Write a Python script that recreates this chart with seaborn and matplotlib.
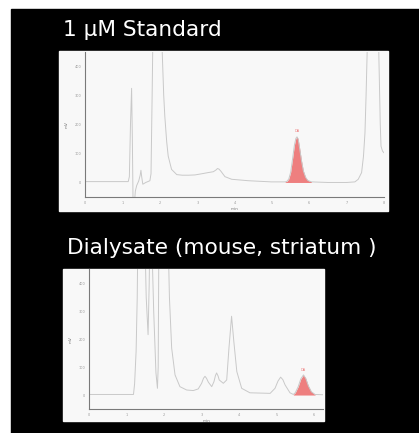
import matplotlib
matplotlib.use("Agg")
import matplotlib.pyplot as plt
from matplotlib.patches import Rectangle
import numpy as np
import pandas as pd
import seaborn as sns

# trace (min, mV); 600 = off scale
std_time = [0.00, 1.15, 1.18, 1.21, 1.24, 1.26, 1.28, 1.31, 1.34, 1.375,
            1.43, 1.47, 1.49, 1.51, 1.54, 1.62, 1.73, 1.76, 1.79, 1.82,
            2.03, 2.06, 2.10, 2.13, 2.18, 2.22, 2.31, 2.45, 2.60, 2.76,
            2.94, 3.12, 3.29, 3.43, 3.50, 3.54, 3.58, 3.63, 3.74, 3.92,
            4.37, 4.99, 5.35, 5.40, 5.45, 5.50, 5.55, 5.60, 5.64, 5.67,
            5.70, 5.74, 5.79, 5.84, 5.90, 5.96, 6.06, 6.50, 7.00, 7.22,
            7.31, 7.40, 7.45, 7.49, 7.52, 7.55, 7.58, 7.82, 7.86, 7.90,
            7.92, 7.96, 8.00]
std_mv = [3, 3, 20, 200, 324, 150, -80, -80, -30, -11,
          5, 25, 42, 20, -6, 0, 6, 30, 300, 600,
          600, 450, 300, 227, 140, 91, 45, 27, 25, 25,
          26, 30, 34, 37, 43, 48, 46, 39, 20, 11,
          6, 2, 2, 4, 12, 35, 80, 128, 152, 157,
          150, 118, 75, 40, 18, 7, 2, 0, 0, 2,
          11, 34, 90, 170, 300, 454, 600, 600, 450, 200,
          125, 108, 102]
std_peak = (5.35, 6.06)

# trace
dia_time = [0.00, 1.18, 1.21, 1.25, 1.28, 1.30, 1.48, 1.52, 1.57, 1.60,
            1.62, 1.66, 1.72, 1.78, 1.82, 1.84, 1.86, 2.10, 2.14, 2.20,
            2.29, 2.42, 2.60, 2.78, 2.91, 3.00, 3.05, 3.09, 3.13, 3.18,
            3.27, 3.33, 3.37, 3.40, 3.44, 3.47, 3.58, 3.67, 3.73, 3.80,
            3.86, 3.94, 4.07, 4.29, 4.83, 4.96, 5.04, 5.11, 5.17, 5.23,
            5.36, 5.45, 5.50, 5.58, 5.65, 5.72, 5.78, 5.85, 5.93, 6.03,
            6.25]
dia_mv = [2, 2, 40, 156, 350, 600, 600, 350, 216, 400,
          600, 600, 300, 80, 24, 100, 600, 600, 350, 168,
          72, 30, 18, 16, 22, 42, 60, 67, 60, 46,
          30, 48, 70, 79, 68, 54, 42, 54, 168, 282,
          192, 84, 24, 8, 6, 24, 50, 64, 55, 36,
          8, 2, 8, 30, 58, 72, 60, 33, 12, 2,
          1]
dia_peak = (5.45, 6.03)

titles = ["1 µM Standard", "Dialysate (mouse, striatum )"]
y_ticks = [0, 100, 200, 300, 400]

LINE = "#c9c9c9"
RED = "#ee7f7f"
PANEL = "#f8f8f8"


def draw_panel(ax, t, mv, peak, xmax):
    df = pd.DataFrame({"min": t, "mV": mv})
    sns.lineplot(data=df, x="min", y="mV", ax=ax, color=LINE,
                 linewidth=0.7, sort=False, estimator=None)
    seg = df[(df["min"] >= peak[0]) & (df["min"] <= peak[1])]
    ax.fill_between(seg["min"], 0, seg["mV"], color=RED, lw=0)
    top = seg.loc[seg["mV"].idxmax()]
    ax.text(top["min"], top["mV"] + 12, "DA", color=RED, fontsize=2.5,
            ha="center", va="bottom")
    ax.set_xlim(0, xmax)
    ax.set_ylim(-50, 450)
    ax.set_xticks(range(int(xmax) + 1))
    ax.set_yticks(y_ticks)
    ax.set_facecolor(PANEL)
    for s in ["top", "right"]:
        ax.spines[s].set_visible(False)
    for s in ["left", "bottom"]:
        ax.spines[s].set_color("#7a7a7a")
        ax.spines[s].set_linewidth(0.8)
    ax.tick_params(labelsize=2.5, colors="#999999", length=1.5, width=0.4,
                   pad=1.5)
    ax.set_xlabel("min", fontsize=3, color="#777777", labelpad=1)
    ax.set_ylabel("mV", fontsize=3, color="#777777", labelpad=4)


sns.set_style("white")
fig = plt.figure(figsize=(4.19, 4.33), dpi=100, facecolor="white")
W, H = 419, 433


def px(x0, y0, x1, y1):
    return [x0 / W, 1 - y1 / H, (x1 - x0) / W, (y1 - y0) / H]


fig.patches.append(Rectangle((11 / W, 0), 1, 1 - 9 / H, transform=fig.transFigure,
                             color="black", zorder=-3))
for box in [(59, 51, 388, 211), (63, 269, 324, 421)]:
    b = px(*box)
    fig.patches.append(Rectangle((b[0], b[1]), b[2], b[3],
                                 transform=fig.transFigure, color=PANEL,
                                 zorder=-2))

ax1 = fig.add_axes(px(85.3, 51.7, 384, 197))
draw_panel(ax1, std_time, std_mv, std_peak, 8)
ax2 = fig.add_axes(px(89.3, 269.3, 323.3, 409))
draw_panel(ax2, dia_time, dia_mv, dia_peak, 6.25)

fig.text(63 / W, 1 - 30 / H, titles[0], color="white", fontsize=15.6,
         va="center", ha="left")
fig.text(67 / W, 1 - 248 / H, titles[1], color="white", fontsize=15.6,
         va="center", ha="left")

fig.savefig("out.png", dpi=100, facecolor="white")
